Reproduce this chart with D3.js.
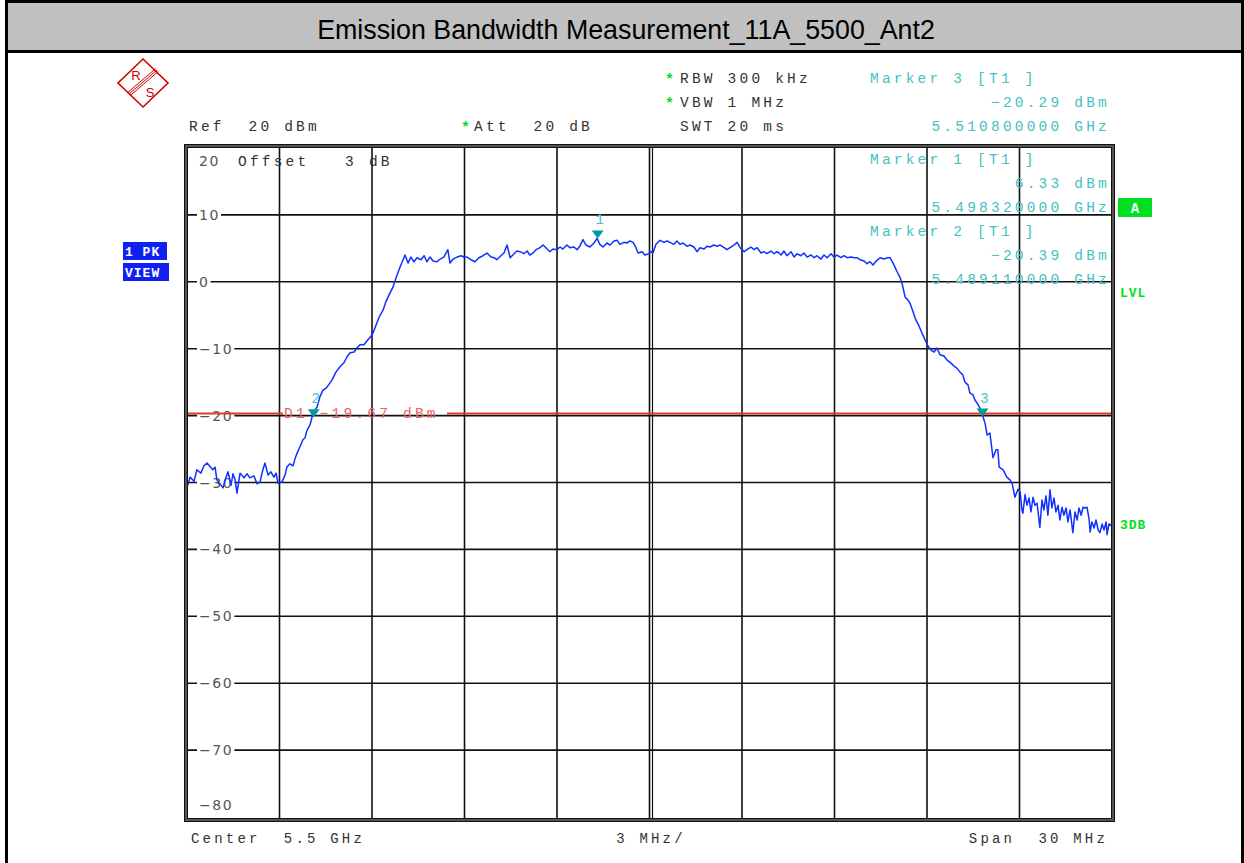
<!DOCTYPE html>
<html><head><meta charset="utf-8">
<script src="https://cdn.jsdelivr.net/npm/d3@7"></script>
<style>
html,body{margin:0;padding:0;background:#fff;}
svg{display:block;}
</style></head>
<body>
<script>
// ---------- DATA ----------
const titleText = "Emission Bandwidth Measurement_11A_5500_Ant2";
const freqRangeMHz = [5485, 5515];
const levelRangeDbm = [-80, 20];
const yTickValues = [20, 10, 0, -10, -20, -30, -40, -50, -60, -70, -80];
const yTickLabels = ["20", "10", "0", "\u221210", "\u221220", "\u221230", "\u221240", "\u221250", "\u221260", "\u221270", "\u221280"];
const xGridValues = [5485, 5488, 5491, 5494, 5497, 5500, 5503, 5506, 5509, 5512, 5515];
const displayLineDbm = -19.67;
const markerIds = [1, 2, 3];
const markerFreqMHz = [5498.32, 5489.11, 5510.80];
const markerLevelDbm = [6.33, -20.39, -20.29];

const traceFreqMHz = [
5485.03,5485.10,5485.23,5485.32,5485.45,5485.55,5485.65,5485.78,5485.84,5485.91,5485.97,5486.07,5486.17,5486.26,5486.33,5486.43,5486.49,5486.56,5486.62,5486.72,
5486.85,5486.95,5487.04,5487.17,5487.27,5487.37,5487.46,5487.53,5487.63,5487.72,5487.82,5487.89,5487.95,5488.08,5488.18,5488.24,5488.34,5488.44,5488.50,5488.57,
5488.66,5488.76,5488.83,5488.89,5488.99,5489.09,5489.22,5489.31,5489.41,5489.51,5489.61,5489.70,5489.83,5489.96,5490.09,5490.19,5490.29,5490.42,5490.51,5490.61,
5490.74,5490.84,5490.94,5491.03,5491.13,5491.23,5491.36,5491.45,5491.55,5491.68,5491.78,5491.91,5492.01,5492.07,5492.17,5492.26,5492.36,5492.46,5492.59,5492.69,
5492.78,5492.88,5492.98,5493.11,5493.21,5493.33,5493.46,5493.53,5493.63,5493.76,5493.89,5493.98,5494.08,5494.21,5494.34,5494.47,5494.60,5494.73,5494.86,5494.96,
5495.05,5495.18,5495.28,5495.38,5495.48,5495.61,5495.70,5495.80,5495.93,5496.03,5496.12,5496.22,5496.32,5496.45,5496.55,5496.68,5496.77,5496.87,5496.99,5497.10,
5497.19,5497.32,5497.42,5497.55,5497.65,5497.75,5497.84,5497.94,5498.07,5498.20,5498.30,5498.39,5498.49,5498.62,5498.72,5498.85,5498.95,5499.04,5499.17,5499.27,
5499.37,5499.47,5499.56,5499.63,5499.76,5499.85,5499.98,5500.05,5500.11,5500.21,5500.34,5500.47,5500.57,5500.66,5500.79,5500.89,5500.99,5501.09,5501.22,5501.31,
5501.44,5501.54,5501.64,5501.77,5501.86,5501.96,5502.09,5502.19,5502.29,5502.42,5502.51,5502.64,5502.74,5502.84,5502.94,5503.07,5503.16,5503.29,5503.39,5503.49,
5503.62,5503.71,5503.81,5503.94,5504.04,5504.14,5504.27,5504.36,5504.46,5504.59,5504.69,5504.78,5504.91,5505.01,5505.11,5505.24,5505.34,5505.43,5505.56,5505.66,
5505.76,5505.89,5505.98,5506.08,5506.21,5506.31,5506.41,5506.54,5506.63,5506.73,5506.83,5506.96,5507.05,5507.15,5507.25,5507.35,5507.48,5507.61,5507.70,5507.80,
5507.90,5508.03,5508.12,5508.19,5508.29,5508.38,5508.45,5508.55,5508.64,5508.74,5508.84,5508.94,5509.03,5509.13,5509.23,5509.32,5509.42,5509.55,5509.65,5509.74,
5509.88,5509.97,5510.07,5510.16,5510.23,5510.33,5510.39,5510.49,5510.56,5510.62,5510.72,5510.78,5510.88,5510.95,5511.04,5511.14,5511.24,5511.30,5511.34,5511.47,
5511.59,5511.69,5511.76,5511.85,5511.95,5512.02,5512.08,5512.11,5512.18,5512.24,5512.31,5512.37,5512.44,5512.50,5512.57,5512.66,5512.73,5512.79,5512.86,5512.92,
5512.99,5513.05,5513.12,5513.18,5513.25,5513.31,5513.38,5513.44,5513.51,5513.57,5513.64,5513.73,5513.80,5513.87,5513.93,5514.00,5514.06,5514.13,5514.19,5514.26,
5514.29,5514.35,5514.42,5514.48,5514.55,5514.61,5514.68,5514.74,5514.81,5514.84,5514.90,5514.97
];
const traceLevelDbm = [
-30.4,-29.2,-29.8,-28.1,-28.6,-27.5,-27.1,-27.8,-28.1,-27.7,-29.6,-30.2,-30.8,-29.3,-28.4,-30.4,-28.7,-29.6,-31.6,-28.6,
-29.3,-28.7,-29.3,-29.0,-30.2,-29.9,-28.1,-27.1,-28.9,-28.4,-29.2,-28.6,-30.1,-29.9,-28.9,-27.7,-27.2,-27.5,-26.5,-25.6,
-24.7,-23.6,-23.3,-22.2,-21.4,-19.6,-18.7,-17.2,-16.2,-15.9,-15.3,-14.7,-13.5,-12.7,-12.1,-11.2,-10.6,-10.5,-9.9,-9.4,
-9.4,-8.8,-8.3,-7.7,-6.5,-5.3,-4.2,-3.0,-2.0,-0.8,0.6,2.2,3.3,4.0,2.8,3.7,3.0,3.6,3.3,3.9,
3.0,3.7,3.1,3.0,3.4,3.7,4.8,2.8,3.4,3.7,3.9,3.7,3.7,3.3,3.0,3.6,3.9,4.3,3.7,3.6,
3.3,3.9,4.3,5.5,3.6,4.2,4.6,4.5,4.2,4.6,4.0,4.3,4.8,5.1,5.5,4.9,4.5,4.9,4.8,5.2,
4.9,5.5,5.1,5.2,4.8,5.4,6.3,5.5,5.2,5.8,6.5,5.6,5.2,5.8,5.5,6.1,6.2,5.6,5.9,5.8,
6.1,5.9,5.1,4.3,4.5,4.0,4.2,4.5,4.3,5.6,6.2,5.9,6.1,5.9,5.6,6.1,5.6,5.8,5.3,5.5,
5.2,4.5,5.1,4.9,5.3,5.2,5.5,5.3,5.5,5.1,4.8,5.2,5.5,5.9,5.1,4.5,4.8,5.2,4.8,5.1,
4.3,4.5,4.2,4.6,4.2,4.5,4.0,4.6,3.9,4.5,3.7,4.2,3.9,4.3,3.7,4.0,3.6,3.9,3.4,4.0,
3.6,4.2,3.7,4.0,3.6,3.9,3.6,3.7,3.6,3.6,3.3,3.1,2.7,3.0,2.5,3.1,3.6,3.4,3.6,3.6,
2.8,1.5,0.7,-0.2,-2.3,-2.7,-3.2,-4.5,-5.7,-6.6,-7.7,-8.7,-9.6,-10.2,-10.5,-9.9,-10.9,-11.1,-11.7,-12.0,
-12.6,-12.9,-13.5,-13.9,-15.0,-15.4,-16.6,-16.9,-17.7,-18.1,-18.9,-19.6,-21.1,-22.9,-22.6,-26.3,-25.1,-25.1,-27.7,-28.1,
-29.2,-29.6,-30.1,-32.2,-31.0,-31.4,-34.1,-34.6,-31.8,-33.4,-32.3,-34.4,-32.2,-33.4,-33.1,-36.7,-32.6,-34.1,-32.0,-34.9,
-31.1,-33.8,-32.3,-34.4,-33.4,-35.6,-33.7,-34.9,-33.8,-35.9,-34.1,-37.5,-34.4,-35.6,-33.8,-34.9,-33.7,-33.8,-33.7,-35.6,
-37.4,-35.9,-36.8,-35.6,-37.1,-37.5,-36.2,-37.1,-35.9,-37.8,-36.2,-36.4
];

// ---------- DRAW ----------
const W = 1244, H = 863;
const svg = d3.select("body").append("svg").attr("width", W).attr("height", H);

const x = d3.scaleLinear().domain(freqRangeMHz).range([187, 1112]);
const y = d3.scaleLinear().domain(levelRangeDbm).range([817, 148]);

const MONO = "'Liberation Mono','DejaVu Sans Mono',monospace";
const SANS = "'DejaVu Sans','Liberation Sans',sans-serif";
const TEAL = "#45c1c1";
const GREEN = "#00e020";

function txt(px, py, s, o = {}) {
  return svg.append("text").attr("x", px).attr("y", py).text(s)
    .attr("font-family", o.family || MONO)
    .attr("font-size", o.size || 14.5)
    .attr("letter-spacing", o.ls !== undefined ? o.ls : 3.2)
    .attr("fill", o.fill || "#333")
    .attr("font-weight", o.weight || "normal")
    .attr("text-anchor", o.anchor || "start")
    .attr("xml:space", "preserve")
    .style("white-space", "pre");
}

// Outer frame + title bar
svg.append("rect").attr("x", 6.5).attr("y", 1.5).attr("width", 1236).attr("height", 870)
  .attr("fill", "#fff").attr("stroke", "#000").attr("stroke-width", 3);
svg.append("rect").attr("x", 8).attr("y", 3).attr("width", 1233).attr("height", 48).attr("fill", "#c0c0c0");
svg.append("line").attr("x1", 6).attr("x2", 1242).attr("y1", 51.5).attr("y2", 51.5).attr("stroke", "#000").attr("stroke-width", 3);
svg.append("text").attr("x", 626).attr("y", 39).attr("text-anchor", "middle")
  .attr("font-family", "'Liberation Sans',Arial,sans-serif").attr("font-size", 26.8).attr("fill", "#000")
  .text(titleText);

// R&S logo
const logo = svg.append("g").attr("transform", "translate(143,83)");
logo.append("path").attr("d", "M0,-24 L25,0 L0,24 L-25,0 Z").attr("fill", "none").attr("stroke", "#d00000").attr("stroke-width", 1.6);
[-2, 0, 2].forEach(o => {
  logo.append("line").attr("x1", -14 + o * 0.7).attr("y1", 11 + o * 0.7).attr("x2", 14 + o * 0.7).attr("y2", -13 + o * 0.7)
    .attr("stroke", "#d00000").attr("stroke-width", 1);
});
logo.append("text").attr("x", -7).attr("y", -3).attr("text-anchor", "middle").attr("font-family", "'Liberation Sans',sans-serif")
  .attr("font-size", 13).attr("fill", "#d00000").text("R");
logo.append("text").attr("x", 7).attr("y", 14).attr("text-anchor", "middle").attr("font-family", "'Liberation Sans',sans-serif")
  .attr("font-size", 13).attr("fill", "#d00000").text("S");

// Header texts
const star = (px, py) => txt(px, py + 2, "*", { fill: GREEN, weight: "bold", size: 15, ls: 0 });
star(665, 82); txt(680, 83, "RBW 300 kHz");
star(665, 106); txt(680, 107, "VBW 1 MHz");
txt(680, 131, "SWT 20 ms");
txt(189, 131, "Ref  20 dBm");
star(461, 130); txt(474, 131, "Att  20 dB");

const fmtF = f => (f / 1000).toFixed(9) + " GHz";
const fmtL = v => (v < 0 ? "\u2212" : "") + Math.abs(v).toFixed(2) + " dBm";
const RX = 1110;
// Marker 3 in header
txt(870, 83, "Marker " + markerIds[2] + " [T1 ]", { fill: TEAL });
txt(RX, 107, fmtL(markerLevelDbm[2]), { fill: TEAL, anchor: "end" });
txt(RX, 131, fmtF(markerFreqMHz[2]), { fill: TEAL, anchor: "end" });

// Plot frame (double)
svg.append("rect").attr("x", 186).attr("y", 146).attr("width", 927).attr("height", 674)
  .attr("fill", "#fff").attr("stroke", "#555").attr("stroke-width", 3);
svg.append("rect").attr("x", 184.5).attr("y", 144.5).attr("width", 930).attr("height", 677)
  .attr("fill", "none").attr("stroke", "#111").attr("stroke-width", 1);
svg.append("rect").attr("x", 187.5).attr("y", 147.5).attr("width", 924).attr("height", 671)
  .attr("fill", "none").attr("stroke", "#111").attr("stroke-width", 1);

// Grid
const grid = svg.append("g");
grid.selectAll("line.v").data(xGridValues.slice(1, -1)).join("line")
  .attr("x1", d => x(d)).attr("x2", d => x(d)).attr("y1", 148).attr("y2", 818)
  .attr("stroke", "#111").attr("stroke-width", 1.6);
grid.append("line").attr("x1", x(5500) + 3).attr("x2", x(5500) + 3).attr("y1", 148).attr("y2", 818)
  .attr("stroke", "#111").attr("stroke-width", 1.2);
grid.selectAll("line.h").data(yTickValues.slice(1, -1)).join("line")
  .attr("x1", 188).attr("x2", 1111).attr("y1", d => y(d)).attr("y2", d => y(d))
  .attr("stroke", "#111").attr("stroke-width", 1.6);

// Y tick labels (white background)
yTickValues.forEach((v, i) => {
  const ty = v === 20 ? 166 : (v === -80 ? 810 : y(v) + 5);
  const t = txt(199, ty, yTickLabels[i], { family: SANS, size: 14, ls: 1.6, fill: "#555" });
  if (v !== 20 && v !== -80) {
    const bb = t.node().getBBox();
    svg.insert("rect", () => t.node()).attr("x", bb.x - 2).attr("y", y(v) - 2).attr("width", bb.width + 3).attr("height", 4).attr("fill", "#fff");
  }
});
txt(238, 166, "Offset   3 dB");

// In-plot marker info
txt(870, 164, "Marker " + markerIds[0] + " [T1 ]", { fill: TEAL });
txt(RX, 188, fmtL(markerLevelDbm[0]), { fill: TEAL, anchor: "end" });
txt(RX, 212, fmtF(markerFreqMHz[0]), { fill: TEAL, anchor: "end" });
txt(870, 236, "Marker " + markerIds[1] + " [T1 ]", { fill: TEAL });
txt(RX, 260, fmtL(markerLevelDbm[1]), { fill: TEAL, anchor: "end" });
txt(RX, 284, fmtF(markerFreqMHz[1]), { fill: TEAL, anchor: "end" });

// Display line D1
const dY = y(displayLineDbm);
svg.append("line").attr("x1", 188).attr("x2", 283).attr("y1", dY).attr("y2", dY).attr("stroke", "#e03a2a").attr("stroke-width", 2);
svg.append("line").attr("x1", 447).attr("x2", 1111).attr("y1", dY).attr("y2", dY).attr("stroke", "#e03a2a").attr("stroke-width", 2);
txt(284, dY + 5, "D1 \u221219.67 dBm", { fill: "#f06060" });

// Trace
const traceData = traceFreqMHz.map((f, i) => [f, traceLevelDbm[i]]);
svg.append("path").datum(traceData)
  .attr("d", d3.line().x(d => x(d[0])).y(d => y(d[1])))
  .attr("fill", "none").attr("stroke", "#1030ff").attr("stroke-width", 1.5).attr("stroke-linejoin", "round");

// Markers
markerIds.forEach((id, i) => {
  const mx = x(markerFreqMHz[i]), my = y(markerLevelDbm[i]);
  svg.append("path").attr("d", `M${mx - 6},${my - 9} L${mx + 6},${my - 9} L${mx},${my - 1} Z`).attr("fill", "#009a9a");
  txt(mx + 2, my - 15, String(id), { fill: TEAL, anchor: "middle", ls: 0, size: 14 });
});

// Side labels
svg.append("rect").attr("x", 123).attr("y", 242).attr("width", 44).attr("height", 18).attr("fill", "#1020f0");
svg.append("rect").attr("x", 123).attr("y", 263).attr("width", 46).attr("height", 18).attr("fill", "#1020f0");
txt(125, 256, "1 PK", { fill: "#fff", weight: "bold", size: 13, ls: 1 });
txt(125, 277, "VIEW", { fill: "#fff", weight: "bold", size: 13, ls: 1 });

svg.append("rect").attr("x", 1118).attr("y", 198).attr("width", 34).attr("height", 19).attr("fill", "#00e020");
txt(1135, 213, "A", { fill: "#fff", weight: "bold", size: 14, ls: 0, anchor: "middle" });
txt(1120, 297, "LVL", { fill: GREEN, weight: "bold", size: 13, ls: 1 });
txt(1120, 529, "3DB", { fill: GREEN, weight: "bold", size: 13, ls: 1 });

// Bottom labels
txt(191, 843, "Center  5.5 GHz", { size: 14 });
txt(651, 843, "3 MHz/", { size: 14, anchor: "middle" });
txt(1108, 843, "Span  30 MHz", { size: 14, anchor: "end" });
</script>
</body></html>
